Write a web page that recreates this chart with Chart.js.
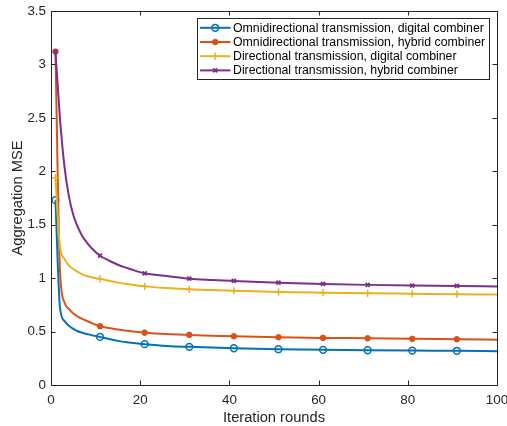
<!DOCTYPE html>
<html>
<head>
<meta charset="utf-8">
<script src="https://cdn.jsdelivr.net/npm/chart.js@4.4.1/dist/chart.umd.min.js"></script>
<style>
  html, body { margin: 0; padding: 0; background: #ffffff; }
  #wrap { width: 507px; height: 426px; position: relative; }
  canvas { display: block; }
</style>
</head>
<body>
<div id="wrap"><canvas id="c" width="507" height="426"></canvas></div>
<script>
// ---- data ----
const iterations = [1,2,3,4,5,6,7,8,9,10,11,13,15,17,19,21,26,31,36,41,51,61,71,81,91,100];
const omniDigital = [1.73,0.73,0.60,0.555,0.525,0.503,0.489,0.478,0.468,0.458,0.45,0.43,0.413,0.40,0.39,0.382,0.366,0.357,0.35,0.344,0.335,0.329,0.325,0.322,0.32,0.317];
const omniHybrid = [3.12,1.08,0.775,0.712,0.67,0.64,0.618,0.60,0.582,0.565,0.55,0.533,0.52,0.508,0.498,0.49,0.477,0.469,0.462,0.456,0.447,0.441,0.437,0.432,0.428,0.424];
const dirDigital = [1.94,1.3,1.18,1.12,1.085,1.058,1.035,1.02,1.01,1.0,0.993,0.975,0.958,0.945,0.933,0.923,0.907,0.895,0.888,0.882,0.871,0.864,0.858,0.854,0.85,0.846];
const dirHybrid = [3.12,2.5,2.05,1.77,1.59,1.48,1.395,1.335,1.285,1.245,1.21,1.165,1.125,1.095,1.068,1.045,1.02,0.995,0.983,0.974,0.958,0.946,0.937,0.931,0.927,0.922];
const markerIterations = [1,11,21,31,41,51,61,71,81,91];
const seriesLabels = [
  'Omnidirectional transmission, digital combiner',
  'Omnidirectional transmission, hybrid combiner',
  'Directional transmission, digital combiner',
  'Directional transmission, hybrid combiner'
];
const xTicks = [0,20,40,60,80,100];
const yTicks = [0,0.5,1,1.5,2,2.5,3,3.5];
const xTitle = 'Iteration rounds';
const yTitle = 'Aggregation MSE';

// ---- styling ----
const AXIS = '#262626';
const FONT = '"Liberation Sans", Arial, Helvetica, sans-serif';
const styles = [
  { color: '#0072BD', style: 'circle',   fill: 'rgba(0,0,0,0)', radius: 3.4, bw: 1.5 },
  { color: '#D95319', style: 'circle',   fill: '#D95319',       radius: 2.8, bw: 1 },
  { color: '#EDB120', style: 'cross',    fill: '#EDB120',       radius: 3.6, bw: 1.5 },
  { color: '#7E2F8E', style: 'crossRot', fill: '#7E2F8E',       radius: 2.8, bw: 1.8 }
];
const seriesValues = [omniDigital, omniHybrid, dirDigital, dirHybrid];

function toPoints(vals) { return iterations.map((x, i) => ({ x: x, y: vals[i] })); }

const datasets = seriesValues.map((vals, i) => {
  const s = styles[i];
  return {
    label: seriesLabels[i],
    data: toPoints(vals),
    borderColor: s.color,
    backgroundColor: s.color,
    borderWidth: 2,
    fill: false,
    cubicInterpolationMode: 'monotone',
    pointStyle: s.style,
    pointBackgroundColor: s.fill,
    pointBorderColor: s.color,
    pointBorderWidth: s.bw,
    pointRadius: ctx => (ctx.raw && markerIterations.includes(ctx.raw.x)) ? s.radius : 0,
    pointHoverRadius: 0,
    order: 3 - i
  };
});

function drawMarker(ctx, s, x, y) {
  ctx.save();
  ctx.strokeStyle = s.color;
  ctx.fillStyle = s.fill;
  ctx.lineWidth = s.bw;
  const r = s.radius;
  ctx.beginPath();
  if (s.style === 'circle') {
    ctx.arc(x, y, r, 0, Math.PI * 2);
    ctx.fill();
    ctx.stroke();
  } else if (s.style === 'cross') {
    ctx.moveTo(x - r, y); ctx.lineTo(x + r, y);
    ctx.moveTo(x, y - r); ctx.lineTo(x, y + r);
    ctx.stroke();
  } else {
    const d = r * Math.SQRT1_2;
    ctx.moveTo(x - d, y - d); ctx.lineTo(x + d, y + d);
    ctx.moveTo(x + d, y - d); ctx.lineTo(x - d, y + d);
    ctx.stroke();
  }
  ctx.restore();
}

const frameAndLegend = {
  id: 'frameAndLegend',
  afterDatasetsDraw(chart) {
    const ctx = chart.ctx;
    const xs = chart.scales.x, ys = chart.scales.y;
    const L = chart.chartArea.left, R = chart.chartArea.right;
    const T = chart.chartArea.top, B = chart.chartArea.bottom;
    const tl = 4.5;
    ctx.save();
    ctx.strokeStyle = AXIS;
    ctx.lineWidth = 1;
    ctx.beginPath();
    xTicks.forEach(v => {
      const px = Math.round(xs.getPixelForValue(v)) + 0.5;
      ctx.moveTo(px, B); ctx.lineTo(px, B - tl);
      ctx.moveTo(px, T); ctx.lineTo(px, T + tl);
    });
    yTicks.forEach(v => {
      const py = Math.round(ys.getPixelForValue(v)) + 0.5;
      ctx.moveTo(L, py); ctx.lineTo(L + tl, py);
      ctx.moveTo(R, py); ctx.lineTo(R - tl, py);
    });
    ctx.stroke();
    ctx.strokeRect(Math.round(L) + 0.5, Math.round(T) + 0.5, Math.round(R - L), Math.round(B - T));

    // legend box
    const bx = 197.5, by = 18.5, bw = 292, bh = 61;
    ctx.fillStyle = '#ffffff';
    ctx.fillRect(bx, by, bw, bh);
    ctx.strokeStyle = '#262626';
    ctx.lineWidth = 1;
    ctx.strokeRect(bx, by, bw, bh);
    ctx.font = '12.3px ' + FONT;
    ctx.textBaseline = 'middle';
    ctx.textAlign = 'left';
    chart.data.datasets.forEach((ds, i) => {
      const s = styles[i];
      const yy = 27.8 + i * 14.2;
      ctx.strokeStyle = s.color;
      ctx.lineWidth = 2;
      ctx.beginPath();
      ctx.moveTo(200, yy); ctx.lineTo(230.5, yy);
      ctx.stroke();
      drawMarker(ctx, s, 215.2, yy);
      ctx.fillStyle = '#000000';
      ctx.fillText(ds.label, 233, yy + 0.5);
    });
    ctx.restore();
  }
};

new Chart(document.getElementById('c'), {
  type: 'line',
  data: { datasets: datasets },
  options: {
    responsive: false,
    animation: false,
    devicePixelRatio: 1,
    layout: { padding: { left: 0, right: 0, top: 0, bottom: 0 } },
    plugins: { legend: { display: false }, tooltip: { enabled: false } },
    scales: {
      x: {
        type: 'linear',
        min: 0, max: 100,
        afterBuildTicks: sc => { sc.ticks = xTicks.map(v => ({ value: v })); },
        afterFit: sc => { sc.height = 41; sc.paddingRight = 10; sc.paddingLeft = 0; },
        grid: { display: false, drawTicks: false },
        border: { display: false },
        ticks: {
          color: AXIS, padding: 7, maxRotation: 0, autoSkip: false,
          font: { family: FONT, size: 13.4 },
          callback: v => String(v)
        },
        title: {
          display: true, text: xTitle, color: AXIS,
          font: { family: FONT, size: 14.7 },
          padding: { top: 0, bottom: -1 }
        }
      },
      y: {
        type: 'linear',
        min: 0, max: 3.5,
        afterBuildTicks: sc => { sc.ticks = yTicks.map(v => ({ value: v })); },
        afterFit: sc => { sc.width = 51; sc.paddingTop = 11; sc.paddingBottom = 0; },
        grid: { display: false, drawTicks: false },
        border: { display: false },
        ticks: {
          color: AXIS, padding: 5, autoSkip: false,
          font: { family: FONT, size: 13.4 },
          callback: v => String(v)
        },
        title: {
          display: true, text: yTitle, color: AXIS,
          font: { family: FONT, size: 14.7 },
          padding: { top: 9.2, bottom: 0 }
        }
      }
    }
  },
  plugins: [frameAndLegend]
});
</script>
</body>
</html>
